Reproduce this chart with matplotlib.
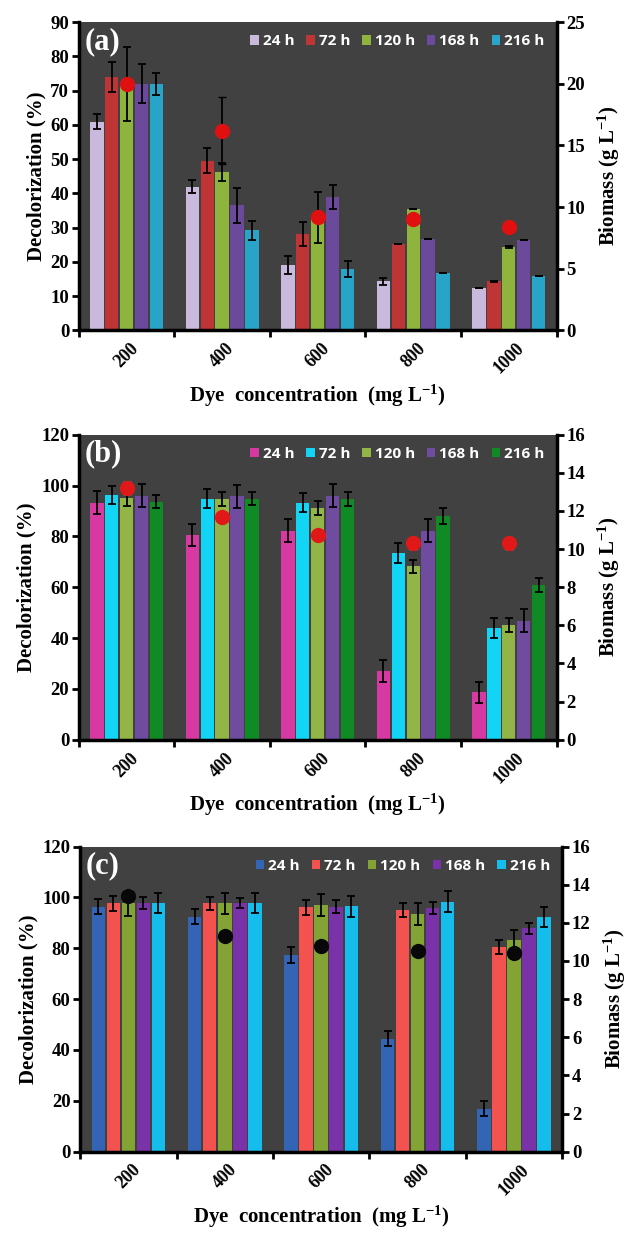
import numpy as np
import matplotlib.pyplot as plt
from matplotlib.patches import Patch

plt.rcParams['mathtext.fontset'] = 'custom'
plt.rcParams['mathtext.rm'] = 'Liberation Serif:bold'
plt.rcParams['mathtext.bf'] = 'Liberation Serif:bold'
plt.rcParams['mathtext.default'] = 'bf'

conc = ['200', '400', '600', '800', '1000']
times = ['24 h', '72 h', '120 h', '168 h', '216 h']

# panel (a) - decolorization (%) per time, across concentrations
a_24 = [61, 42, 19, 14.3, 12.3]
a_72 = [74, 49.6, 28.2, 25.3, 14.3]
a_120 = [72, 46.2, 33, 35.5, 24.3]
a_168 = [72, 36.5, 38.9, 26.8, 26.5]
a_216 = [72, 29.2, 17.9, 16.7, 16]
a_err_24 = [2.2, 1.8, 2.6, 1.0, 0]
a_err_72 = [4.5, 3.6, 3.5, 0, 0.2]
a_err_120 = [10.8, 2.6, 7.5, 0, 0.2]
a_err_168 = [5.7, 5.2, 3.6, 0, 0]
a_err_216 = [3.2, 2.7, 2.2, 0, 0]
a_bio = [20, 16.2, 9.2, 9.0, 8.4]
a_bio_err = [0.2, 2.7, 0.3, 0.2, 0.2]

# panel (b)
b_24 = [93.3, 80.6, 82.3, 26.9, 18.6]
b_72 = [96.3, 94.8, 93.3, 73.4, 43.9]
b_120 = [95, 94.8, 91.3, 68.2, 45]
b_168 = [96, 95.7, 96, 82.3, 46.9]
b_216 = [93.7, 94.8, 94.8, 88, 61]
b_err_24 = [4.4, 4.4, 4.4, 4.3, 4.3]
b_err_72 = [3.7, 3.7, 3.8, 3.8, 3.8]
b_err_120 = [3, 2.7, 2.7, 2.6, 2.7]
b_err_168 = [4.6, 4.7, 4.6, 4.4, 4.5]
b_err_216 = [2.5, 2.5, 2.8, 3, 2.8]
b_bio = [13.2, 11.7, 10.75, 10.3, 10.3]
b_bio_err = [0.3, 0.3, 0.3, 0.3, 0.3]

# panel (c)
c_24 = [96.4, 92.4, 77.5, 44.5, 16.9]
c_72 = [97.7, 97.7, 96.1, 95, 80.5]
c_120 = [97.7, 97.7, 97, 93.5, 83.3]
c_168 = [97.9, 97.7, 96.4, 95.7, 87.9]
c_216 = [97.7, 97.7, 96.6, 98.3, 92.4]
c_err_24 = [2.8, 2.9, 3.1, 2.9, 2.9]
c_err_72 = [3, 2.6, 2.9, 2.8, 2.8]
c_err_120 = [5, 4.2, 4.4, 4.2, 4]
c_err_168 = [2.3, 2, 2.5, 2.4, 2.1]
c_err_216 = [3.9, 4, 4.1, 4.2, 4]
c_bio = [13.4, 11.3, 10.8, 10.5, 10.4]
c_bio_err = [0.3, 0.3, 0.3, 0.3, 0.3]

panels = [
    dict(label='(a)', vals=[a_24, a_72, a_120, a_168, a_216],
         errs=[a_err_24, a_err_72, a_err_120, a_err_168, a_err_216],
         bio=a_bio, bio_err=a_bio_err, ymax=90, ystep=10, rmax=25, rstep=5,
         colors=['#c9b9dc', '#bf3434', '#8fb43e', '#6b4a9c', '#28a4c8'],
         dot='#e01010', rect=[0.125, 0.733, 0.757, 0.249]),
    dict(label='(b)', vals=[b_24, b_72, b_120, b_168, b_216],
         errs=[b_err_24, b_err_72, b_err_120, b_err_168, b_err_216],
         bio=b_bio, bio_err=b_bio_err, ymax=120, ystep=20, rmax=16, rstep=2,
         colors=['#d63aa2', '#12d4f4', '#93b446', '#6f4c9e', '#108a24'],
         dot='#e01818', rect=[0.125, 0.402, 0.757, 0.2466]),
    dict(label='(c)', vals=[c_24, c_72, c_120, c_168, c_216],
         errs=[c_err_24, c_err_72, c_err_120, c_err_168, c_err_216],
         bio=c_bio, bio_err=c_bio_err, ymax=120, ystep=20, rmax=16, rstep=2,
         colors=['#3464b4', '#f4524e', '#83a434', '#7a32a8', '#14bdec'],
         dot='#080808', rect=[0.127, 0.069, 0.764, 0.2466]),
]

serif = 'Liberation Serif'
sans = 'Open Sans'

fig = plt.figure(figsize=(6.31, 12.37), dpi=100)
x = np.arange(len(conc))
width = 0.14
pitch = 0.156

for p in panels:
    ax = fig.add_axes(p['rect'])
    ax.set_facecolor('#414141')
    for i, t in enumerate(times):
        pos = x + (i - 2) * pitch
        ax.bar(pos, p['vals'][i], width, color=p['colors'][i], zorder=2)
        ax.errorbar(pos, p['vals'][i], yerr=p['errs'][i], fmt='none', ecolor='black',
                    elinewidth=1.3, capsize=3, capthick=1.3, zorder=3)
    ax.set_xlim(-0.5, 4.5)
    ax.set_ylim(0, p['ymax'])
    ax.set_yticks(np.arange(0, p['ymax'] + 1, p['ystep']))
    ax.set_xticks(np.arange(-0.5, 5, 1))
    ax.set_xticklabels([])
    ax.set_xticks(x, minor=True)
    ax.set_xticklabels(conc, minor=True, rotation=45, ha='center', va='top',
                       fontfamily=serif, fontweight='bold', fontsize=13)
    ax.tick_params(axis='x', which='minor', length=0, pad=7)
    ax.tick_params(axis='x', which='major', direction='out', length=5, width=2)
    ax.tick_params(axis='y', direction='out', length=5, width=2, pad=2)
    for lab in ax.get_yticklabels():
        lab.set_fontfamily(serif)
        lab.set_fontweight('bold')
        lab.set_fontsize(13.5)
    ax.spines['top'].set_visible(False)
    for s in ['left', 'bottom']:
        ax.spines[s].set_linewidth(2.5)
    ax.set_ylabel('Decolorization (%)', fontfamily=serif, fontweight='bold', fontsize=15, labelpad=3)
    ax.set_xlabel('Dye  concentration  (mg L$^{-1}$)', fontfamily=serif,
                  fontweight='bold', fontsize=15, labelpad=4)

    ax2 = ax.twinx()
    ax2.errorbar(x, p['bio'], yerr=p['bio_err'], fmt='o', color=p['dot'], ms=10,
                 mec=p['dot'], ecolor='black' if p['label'] == '(a)' else '#dddddd',
                 elinewidth=1.3, capsize=3, zorder=5)
    ax2.set_ylim(0, p['rmax'])
    ax2.set_yticks(np.arange(0, p['rmax'] + 1, p['rstep']))
    ax2.tick_params(axis='y', direction='out', length=5, width=2, pad=2)
    for lab in ax2.get_yticklabels():
        lab.set_fontfamily(serif)
        lab.set_fontweight('bold')
        lab.set_fontsize(13.5)
    ax2.spines['top'].set_visible(False)
    ax2.spines['right'].set_linewidth(2.5)
    ax2.set_ylabel('Biomass (g L$^{-1}$)', fontfamily=serif, fontweight='bold',
                   fontsize=15, labelpad=8)

    handles = [Patch(facecolor=c) for c in p['colors']]
    leg = ax.legend(handles, times, loc='upper right', ncol=5, frameon=False,
                    bbox_to_anchor=(1.0, 1.0), handlelength=0.55, handleheight=0.55,
                    handletextpad=0.25, columnspacing=0.8, borderaxespad=0.4,
                    prop={'family': sans, 'weight': 'bold', 'size': 11})
    for txt in leg.get_texts():
        txt.set_color('white')
    ax.text(0.012, 0.985, p['label'], transform=ax.transAxes, ha='left', va='top',
            color='white', fontfamily=serif, fontweight='bold', fontsize=22, zorder=6)

fig.savefig('out.png', dpi=100, facecolor='white')
